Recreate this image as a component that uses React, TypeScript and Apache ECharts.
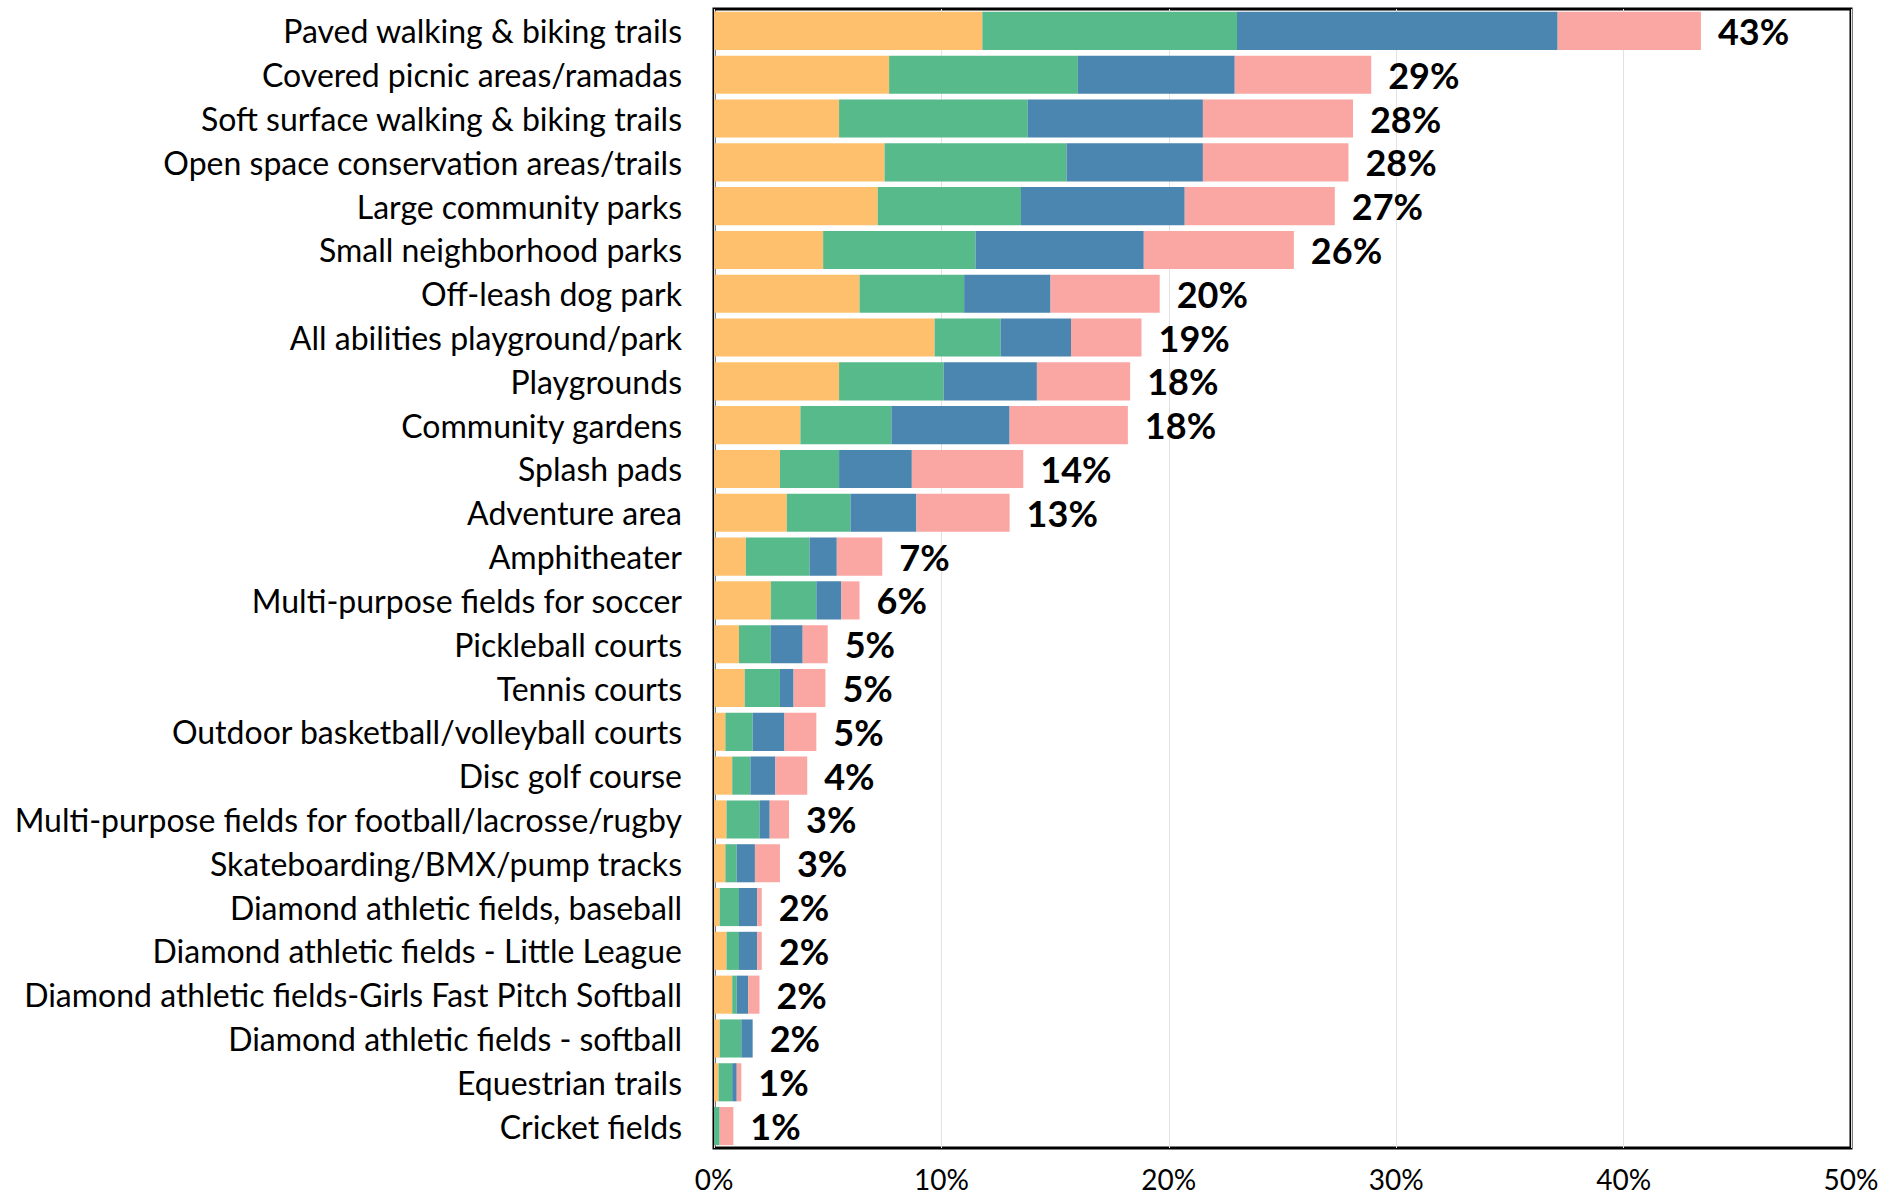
import React, { useEffect, useRef } from "react";
import * as echarts from "echarts";

const categories = [
  "Paved walking & biking trails",
  "Covered picnic areas/ramadas",
  "Soft surface walking & biking trails",
  "Open space conservation areas/trails",
  "Large community parks",
  "Small neighborhood parks",
  "Off-leash dog park",
  "All abilities playground/park",
  "Playgrounds",
  "Community gardens",
  "Splash pads",
  "Adventure area",
  "Amphitheater",
  "Multi-purpose fields for soccer",
  "Pickleball courts",
  "Tennis courts",
  "Outdoor basketball/volleyball courts",
  "Disc golf course",
  "Multi-purpose fields for football/lacrosse/rugby",
  "Skateboarding/BMX/pump tracks",
  "Diamond athletic fields, baseball",
  "Diamond athletic fields - Little League",
  "Diamond athletic fields-Girls Fast Pitch Softball",
  "Diamond athletic fields - softball",
  "Equestrian trails",
  "Cricket fields",
];

const seriesYellow = [11.8, 7.7, 5.5, 7.5, 7.2, 4.8, 6.4, 9.7, 5.5, 3.8, 2.9, 3.2, 1.4, 2.5, 1.1, 1.35, 0.5, 0.8, 0.55, 0.5, 0.25, 0.55, 0.8, 0.25, 0.2, 0];
const seriesGreen = [11.2, 8.3, 8.3, 8.0, 6.3, 6.7, 4.6, 2.9, 4.6, 4.0, 2.6, 2.8, 2.8, 2.0, 1.4, 1.55, 1.2, 0.8, 1.45, 0.5, 0.85, 0.55, 0.2, 0.95, 0.6, 0.25];
const seriesBlue = [14.1, 6.9, 7.7, 6.0, 7.2, 7.4, 3.8, 3.1, 4.1, 5.2, 3.2, 2.9, 1.2, 1.1, 1.4, 0.6, 1.4, 1.1, 0.45, 0.8, 0.8, 0.8, 0.5, 0.5, 0.2, 0];
const seriesPink = [6.3, 6.0, 6.6, 6.4, 6.6, 6.6, 4.8, 3.1, 4.1, 5.2, 4.9, 4.1, 2.0, 0.8, 1.1, 1.4, 1.4, 1.4, 0.85, 1.1, 0.2, 0.2, 0.5, 0, 0.2, 0.6];

const totalLabels = ["43%", "29%", "28%", "28%", "27%", "26%", "20%", "19%", "18%", "18%", "14%", "13%", "7%", "6%", "5%", "5%", "5%", "4%", "3%", "3%", "2%", "2%", "2%", "2%", "1%", "1%"];

const xTicks = { min: 0, max: 50, interval: 10 };

const colors = ["#FEC06C", "#57BA8B", "#4A86B0", "#FAA6A3"];

export default function App() {
  const ref = useRef<HTMLDivElement>(null);

  useEffect(() => {
    if (!ref.current) return;
    const chart = echarts.init(ref.current, undefined, { renderer: "svg" });
    const values = [seriesYellow, seriesGreen, seriesBlue, seriesPink];
    const font = "Lato";
    const series: any[] = values.map((vals, i) => ({
      type: "bar",
      stack: "total",
      data: vals,
      barCategoryGap: "13%",
      itemStyle: { color: colors[i] },
      label:
        i === 3
          ? {
              show: true,
              position: "right",
              distance: 17,
              formatter: (p: any) => totalLabels[p.dataIndex],
              fontFamily: font,
              fontWeight: "bold",
              fontSize: 36,
              color: "#000",
            }
          : { show: false },
      emphasis: { disabled: true },
    }));
    chart.setOption({
      animation: false,
      backgroundColor: "#fff",
      grid: {
        left: 714,
        right: 51,
        top: 9,
        bottom: 52,
        show: true,
        borderColor: "#000",
        borderWidth: 3,
        containLabel: false,
      },
      xAxis: {
        type: "value",
        min: xTicks.min,
        max: xTicks.max,
        interval: xTicks.interval,
        axisLine: { show: false },
        axisTick: { show: false },
        axisLabel: {
          formatter: "{value}%",
          fontFamily: font,
          fontSize: 28,
          lineHeight: 26,
          verticalAlign: "middle",
          color: "#000",
          margin: 31,
        },
        splitLine: { show: true, lineStyle: { color: "#e2e2e2", width: 1 } },
      },
      yAxis: {
        type: "category",
        data: categories,
        inverse: true,
        axisLine: { show: false },
        axisTick: { show: false },
        axisLabel: {
          fontFamily: font,
          fontSize: 32,
          color: "#000",
          margin: 32,
        },
        splitLine: { show: false },
      },
      series,
    });
    return () => chart.dispose();
  }, []);

  return (
    <div
      ref={ref}
      style={{ position: "absolute", left: 0, top: 0, width: 1902, height: 1200 }}
    />
  );
}
